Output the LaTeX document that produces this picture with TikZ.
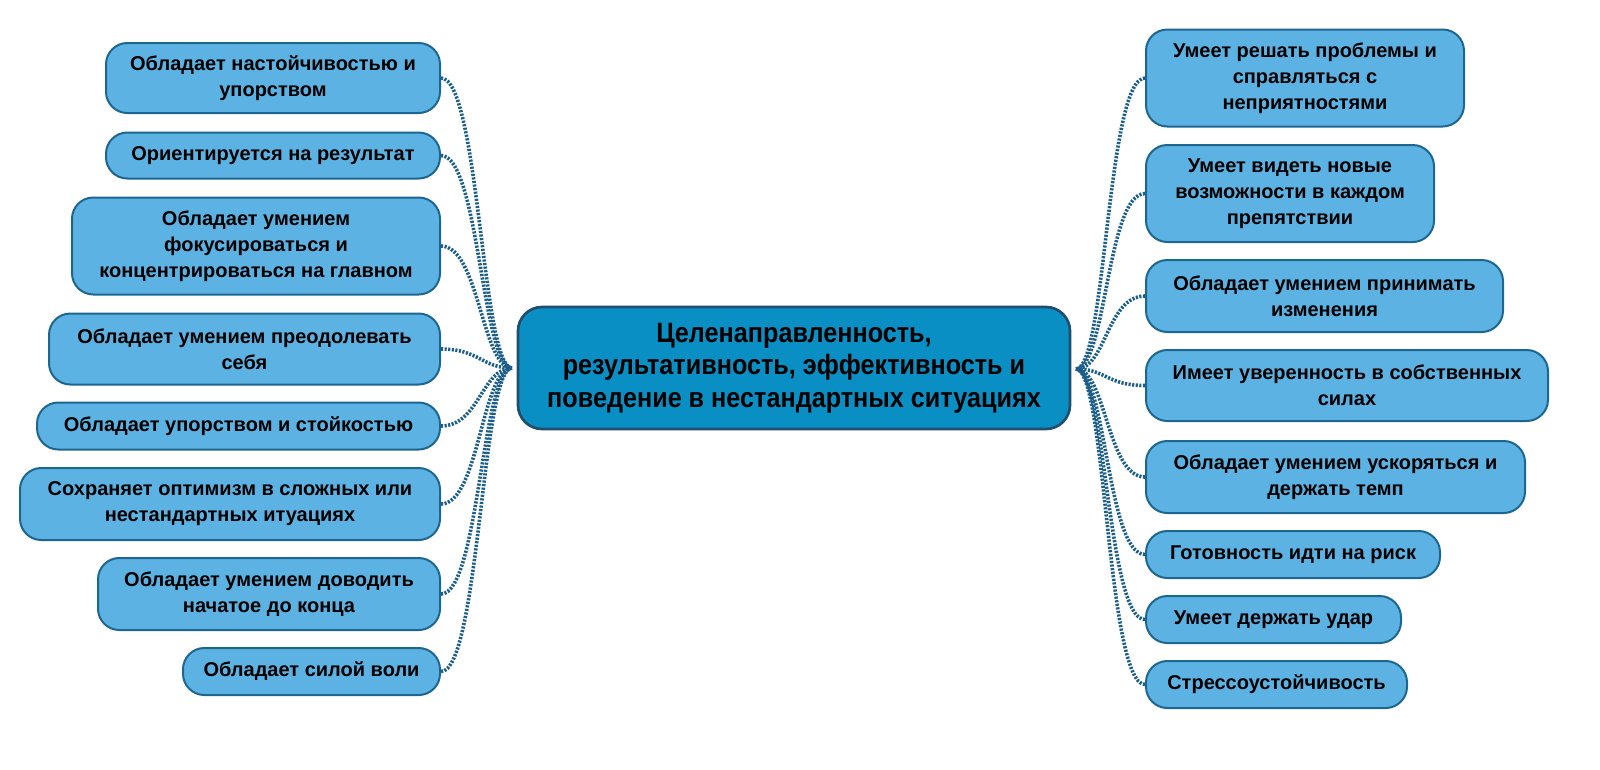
\documentclass[tikz,border=0pt]{standalone}
\usepackage{fontspec}
\setmainfont{Liberation Sans}
\newfontfamily\hubfont{Liberation Sans Bold}[FakeStretch=0.9]
\usetikzlibrary{calc}

\definecolor{boxfill}{HTML}{5CB3E3}
\definecolor{boxline}{HTML}{1D6690}
\definecolor{hubfill}{HTML}{0A8FC4}
\definecolor{hubline}{HTML}{1F4E6F}
\definecolor{linkcol}{HTML}{1B5E8A}

\begin{document}
\begin{tikzpicture}[x=0.75pt,y=-0.75pt,
    leaf/.style={draw=boxline, fill=boxfill, line width=1.5pt, rounded corners=16pt,
        inner sep=0pt, align=center, font=\fontsize{15}{19.5}\selectfont\bfseries},
    leftleaf/.style={leaf, anchor=east},
    rightleaf/.style={leaf, anchor=west},
    hub/.style={draw=hubline, fill=hubfill, line width=2pt, rounded corners=18pt,
        inner sep=0pt, align=center, font=\hubfont\fontsize{21}{24.5}\selectfont},
    link/.style={draw=linkcol, line width=2.7pt, dash pattern=on 1.6pt off 1.1pt}]

    % Frame of the picture
    \useasboundingbox (0,0) rectangle (1600,769);

    % Central node and the two points where the links meet
    \node[hub, minimum width=414pt, minimum height=91.5pt] (core) at (794,368)
        {Целенаправленность,\\результативность, эффективность и\\поведение в нестандартных ситуациях};
    \coordinate (jl) at (512,368);
    \coordinate (jr) at (1076,369);

    % Left branch
    \node[leftleaf, minimum width=250.5pt, minimum height=52.5pt] (l1) at (441,78)
        {Обладает настойчивостью и\\упорством};
    \node[leftleaf, minimum width=250.5pt, minimum height=34.5pt] (l2) at (441,155.5)
        {Ориентируется на результат};
    \node[leftleaf, minimum width=276pt, minimum height=72.75pt] (l3) at (441,246)
        {Обладает умением\\фокусироваться и\\концентрироваться на главном};
    \node[leftleaf, minimum width=293.25pt, minimum height=53.25pt] (l4) at (441,349)
        {Обладает умением преодолевать\\себя};
    \node[leftleaf, minimum width=302.25pt, minimum height=35.25pt] (l5) at (441,426)
        {Обладает упорством и стойкостью};
    \node[leftleaf, minimum width=315pt, minimum height=54pt] (l6) at (441,504)
        {Сохраняет оптимизм в сложных или\\нестандартных итуациях};
    \node[leftleaf, minimum width=256.5pt, minimum height=54pt] (l7) at (441,594)
        {Обладает умением доводить\\начатое до конца};
    \node[leftleaf, minimum width=192.75pt, minimum height=35.25pt] (l8) at (441,671.5)
        {Обладает силой воли};

    % Right branch
    \node[rightleaf, minimum width=238.5pt, minimum height=72.75pt] (r1) at (1145,78)
        {Умеет решать проблемы и\\справляться с\\неприятностями};
    \node[rightleaf, minimum width=216pt, minimum height=72.75pt] (r2) at (1145,193.5)
        {Умеет видеть новые\\возможности в каждом\\препятствии};
    \node[rightleaf, minimum width=267.75pt, minimum height=54pt] (r3) at (1145,296)
        {Обладает умением принимать\\изменения};
    \node[rightleaf, minimum width=301.5pt, minimum height=53.25pt] (r4) at (1145,385.5)
        {Имеет уверенность в собственных\\силах};
    \node[rightleaf, minimum width=284.25pt, minimum height=54pt] (r5) at (1145,477)
        {Обладает умением ускоряться и\\держать темп};
    \node[rightleaf, minimum width=220.5pt, minimum height=35.25pt] (r6) at (1145,554.5)
        {Готовность идти на риск};
    \node[rightleaf, minimum width=191.25pt, minimum height=35.25pt] (r7) at (1145,619.5)
        {Умеет держать удар};
    \node[rightleaf, minimum width=195.75pt, minimum height=35.25pt] (r8) at (1145,684.5)
        {Стрессоустойчивость};

    % Dotted links to the centre
    \foreach \n in {l1,l2,l3,l4,l5,l6,l7,l8}
        \draw[link] (\n.east) .. controls +(38,0) and +(-30,0) .. (jl);
    \foreach \n in {r1,r2,r3,r4,r5,r6,r7,r8}
        \draw[link] (\n.west) .. controls +(-38,0) and +(30,0) .. (jr);

\end{tikzpicture}
\end{document}
